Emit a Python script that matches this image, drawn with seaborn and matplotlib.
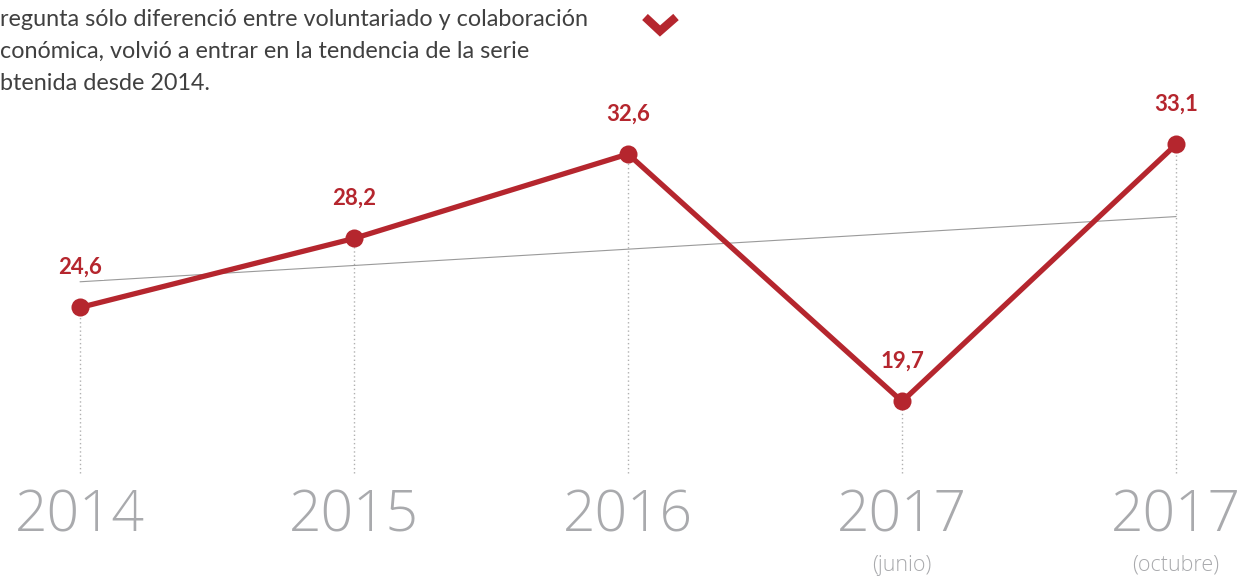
import matplotlib
matplotlib.use("Agg")
import matplotlib.pyplot as plt
import seaborn as sns
import pandas as pd
from matplotlib.lines import Line2D

# ---- data ----
years = ["2014", "2015", "2016", "2017", "2017"]
sublabels = ["", "", "", "(junio)", "(octubre)"]
values = [24.6, 28.2, 32.6, 19.7, 33.1]
value_labels = ["24,6", "28,2", "32,6", "19,7", "33,1"]
intro_lines = [
    "regunta sólo diferenció entre voluntariado y colaboración",
    "conómica, volvió a entrar en la tendencia de la serie",
    "btenida desde 2014.",
]

RED = "#b5262e"
GRAY_TXT = "#a9aaad"

sns.set_theme(style="white")
plt.rcParams["font.family"] = ["Lato", "DejaVu Sans"]

df = pd.DataFrame({"pos": list(range(len(values))), "value": values})

fig = plt.figure(figsize=(12.46, 5.77), dpi=100)
ax = fig.add_axes([0, 0, 1, 1])
ax.set_xlim(-0.292, 4.255)
ax.set_ylim(10.55, 40.63)

# trend line
sns.regplot(data=df, x="pos", y="value", scatter=False, ci=None, ax=ax,
            line_kws=dict(color="#9a9a9a", lw=0.8, zorder=1))

# dotted drop lines
ax.vlines(df["pos"], ymin=15.97, ymax=df["value"], colors="#b0b0b0",
          linestyles=(0, (1, 2)), lw=1.0, zorder=0)

# main series
sns.lineplot(data=df, x="pos", y="value", ax=ax, color=RED, lw=3.8,
             marker="o", markersize=13, markeredgewidth=0, zorder=3)
ax.set_xlabel("")
ax.set_ylabel("")
ax.axis("off")

# value labels
for p, v, lab in zip(df["pos"], values, value_labels):
    ax.annotate(lab, (p, v), xytext=(0, 29), textcoords="offset points",
                ha="center", va="center", fontsize=16, fontweight="bold",
                color=RED, zorder=4,
                bbox=dict(facecolor="white", edgecolor="none", pad=1.5))

# year labels
xt = ax.get_xaxis_transform()
for p, y, s in zip(df["pos"], years, sublabels):
    ax.text(p, 0.104, y, transform=xt, ha="center", va="center",
            fontsize=41, fontweight="light", color=GRAY_TXT,
            family=["Open Sans", "DejaVu Sans"])
    if s:
        ax.text(p, 0.02, s, transform=xt, ha="center", va="center",
                fontsize=15.5, fontweight="light", color=GRAY_TXT,
                family=["Open Sans", "DejaVu Sans"])

# intro text
for i, line in enumerate(intro_lines):
    fig.text(0.0, 1 - (20 + 31.5 * i) / 577, line, ha="left", va="center",
             fontsize=16.8, color="#404040")

# chevron
W, H = 1246, 577
chev = Line2D([645 / W, 660 / W, 676 / W], [1 - 17 / H, 1 - 31 / H, 1 - 17 / H],
              transform=fig.transFigure, color=RED, lw=6, solid_capstyle="butt",
              solid_joinstyle="miter")
fig.add_artist(chev)

fig.savefig("out.png", dpi=100, facecolor="white")
